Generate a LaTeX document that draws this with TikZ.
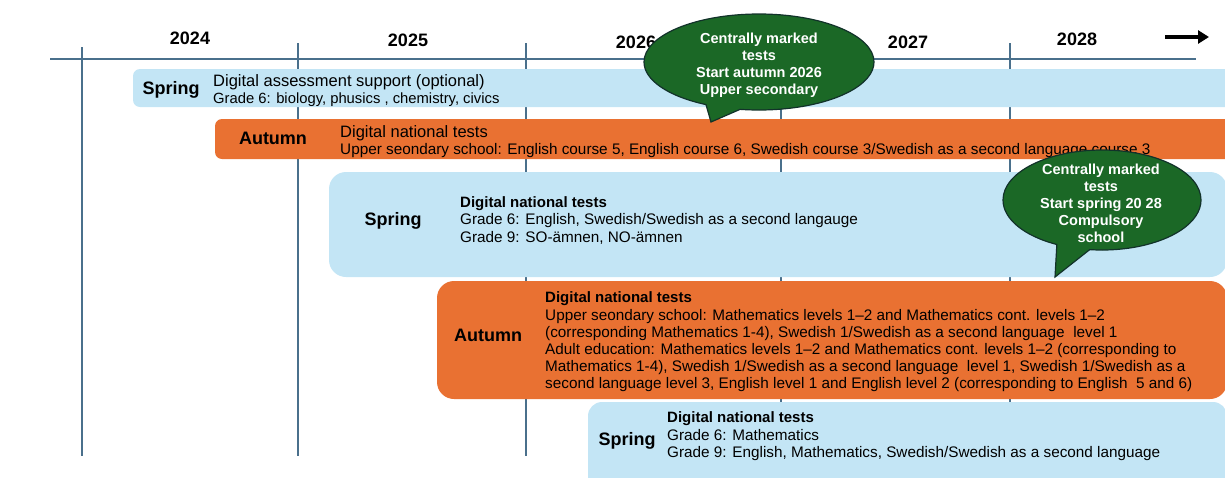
\documentclass[tikz,border=0pt]{standalone}
\usepackage{fontspec}
\setmainfont{Liberation Sans}
\usetikzlibrary{shapes.callouts,arrows.meta}
\definecolor{barblue}{RGB}{195,229,245}
\definecolor{barorange}{RGB}{233,113,50}
\definecolor{bubgreen}{RGB}{27,104,38}
\definecolor{bubedge}{RGB}{18,50,42}
\definecolor{axisblue}{RGB}{74,112,140}
\newcommand\fsz[2]{\fontsize{#1pt}{#2pt}\selectfont}
\begin{document}
\begin{tikzpicture}[x=1pt,y=-1pt,
  axisline/.style={draw=axisblue,line width=1.3pt},
  bluebar/.style={fill=barblue},
  orangebar/.style={fill=barorange},
  yearlabel/.style={font=\fsz{18}{20}\bfseries,anchor=base,inner sep=0},
  season/.style={font=\fsz{18}{20}\bfseries,anchor=base,inner sep=0},
  bigtitle/.style={font=\fsz{16.5}{19},anchor=base west,inner sep=0},
  boldtitle/.style={font=\fsz{15}{17}\bfseries,anchor=base west,inner sep=0},
  bodytext/.style={font=\fsz{15.3}{17.2},anchor=west,align=left,inner sep=0},
  bubble/.style={ellipse callout,fill=bubgreen,draw=bubedge,line width=1.2pt,inner sep=0},
  bubbletext/.style={text=white,font=\fsz{14.5}{17}\bfseries,align=center,inner sep=0}
]
\useasboundingbox (0,0) rectangle (1225,477);
\clip (0,0) rectangle (1225,477);

% axis
\coordinate (axL) at (50,59);
\coordinate (axR) at (1196,59);
\draw[axisline] (axL) -- (axR);
\foreach \xx/\yt [count=\i] in {82/47,298/43,526/43,781/43,1010/43}{
  \coordinate (vt\i) at (\xx,\yt);
  \coordinate (vb\i) at (\xx,456);
  \draw[axisline] (vt\i) -- (vb\i);
}

% years
\node[yearlabel] (y2024) at (190,44.5) {2024};
\node[yearlabel] (y2025) at (408,46.5) {2025};
\node[yearlabel] (y2026) at (636,48.5) {2026};
\node[yearlabel] (y2027) at (908,48.5) {2027};
\node[yearlabel] (y2028) at (1077,45.5) {2028};
\coordinate (arS) at (1165,37);
\coordinate (arE) at (1209,37);
\draw[line width=3.6pt,-{Triangle[length=11pt,width=13pt]}] (arS) -- (arE);

% bar 1
\fill[bluebar,rounded corners=7pt] (133,69) rectangle (1245,107);
\node[season] (s1) at (171,94.5) {Spring};
\node[bigtitle] (t1) at (213,86) {Digital assessment support (optional)};
\node[bodytext,font=\fsz{14.8}{17.2},anchor=base west] (b1) at (213,103.5) {Grade 6: biology, phusics , chemistry, civics};

% bar 2
\fill[orangebar,rounded corners=7pt] (215,119) rectangle (1245,159);
\node[season] (s2) at (273,144.5) {Autumn};
\node[bigtitle] (t2) at (340,137) {Digital national tests};
\node[bodytext,anchor=base west] (b2) at (340,154.5) {Upper seondary school: English course 5, English course 6, Swedish course 3/Swedish as a second language course 3};

% bar 3
\fill[bluebar,rounded corners=17pt] (329,172) rectangle (1227,277);
\node[season] (s3) at (393,225.5) {Spring};
\node[boldtitle] (t3) at (460,207.5) {Digital national tests};
\node[bodytext] (b3) at (460,229) {Grade 6: English, Swedish/Swedish as a second langauge\\Grade 9: SO-ämnen, NO-ämnen};

% bar 4
\fill[orangebar,rounded corners=17pt] (437,281) rectangle (1227,399);
\node[season] (s4) at (488,341.5) {Autumn};
\node[boldtitle] (t4) at (545,302.5) {Digital national tests};
\node[bodytext] (b4) at (545,350.5) {Upper seondary school: Mathematics levels 1--2 and Mathematics cont. levels 1--2\\(corresponding Mathematics 1-4), Swedish 1/Swedish as a second language\ \ level 1\\Adult education: Mathematics levels 1--2 and Mathematics cont. levels 1--2 (corresponding to\\Mathematics 1-4), Swedish 1/Swedish as a second language\ \ level 1, Swedish 1/Swedish as a\\second language level 3, English level 1 and English level 2 (corresponding to English\ \ 5 and 6)};

% bar 5
\fill[bluebar,rounded corners=14pt] (588,402) rectangle (1227,490);
\node[season] (s5) at (627,445.5) {Spring};
\node[boldtitle] (t5) at (667,422.5) {Digital national tests};
\node[bodytext] (b5) at (667,445) {Grade 6: Mathematics\\Grade 9: English, Mathematics, Swedish/Swedish as a second language};

% bubble 1
\coordinate (tip1) at (711,122);
\node[bubble,minimum width=230pt,minimum height=96pt,callout absolute pointer=(tip1),callout pointer arc=18] (cm1) at (759,62) {};
\node[bubbletext] (cm1t) at (759,65) {Centrally marked\\tests\\Start autumn 2026\\Upper secondary};

% bubble 2
\coordinate (tip2) at (1055,277);
\node[bubble,minimum width=198pt,minimum height=100pt,callout absolute pointer=(tip2),callout pointer arc=20] (cm2) at (1102,200) {};
\node[bubbletext] (cm2t) at (1101,203.5) {Centrally marked\\tests\\Start spring 20 28\\Compulsory\\school};
\end{tikzpicture}
\end{document}
